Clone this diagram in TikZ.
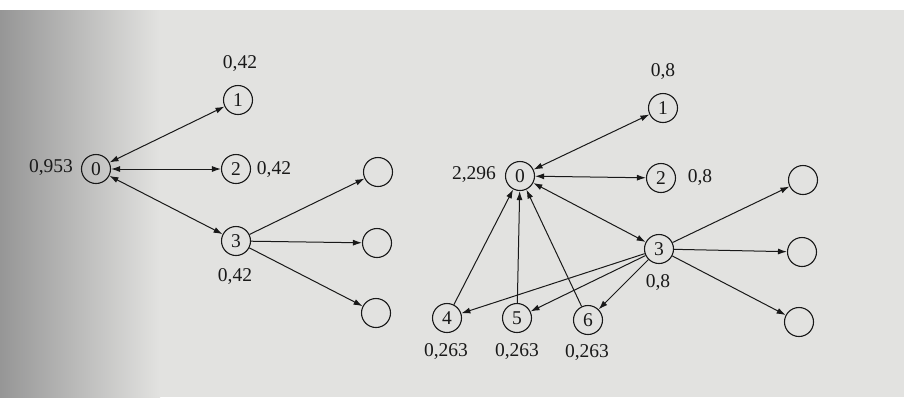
\documentclass[tikz,border=0pt]{standalone}
\usepackage{fontspec}
\setmainfont{Liberation Serif}
\usetikzlibrary{arrows.meta}
\definecolor{page}{RGB}{226,226,224}
\definecolor{pageedge}{RGB}{150,150,150}
\definecolor{ink}{RGB}{25,25,25}
\begin{document}
\begin{tikzpicture}[x=1pt,y=-1pt,
 pg/.style={circle,draw=ink,line width=1.1pt,minimum size=29pt,inner sep=0pt,font=\fontsize{19.5}{22}\selectfont,text=ink},
 lbl/.style={font=\fontsize{19.5}{22}\selectfont,text=ink,inner sep=0pt},
 link/.style={draw=ink,line width=1pt,-{Latex[length=9pt,width=6pt]}},
 both/.style={draw=ink,line width=1pt,{Latex[length=9pt,width=6pt]}-{Latex[length=9pt,width=6pt]}}]
\useasboundingbox (0,0) rectangle (904,397);
\fill[white] (0,0) rectangle (904,397);
\fill[page] (0,10) rectangle (904,397);
\shade[left color=pageedge,right color=page] (0,10) rectangle (160,397);

% left graph
\node[pg] (a0) at (96,169) {0};
\node[pg] (a1) at (238,100) {1};
\node[pg] (a2) at (236,169) {2};
\node[pg] (a3) at (236,241) {3};
\node[pg] (a4) at (378,172) {};
\node[pg] (a5) at (377,243) {};
\node[pg] (a6) at (376,313) {};
\node[lbl] (la1) at (240,64) {0,42};
\node[lbl] (la0) at (51,168) {0,953};
\node[lbl] (la2) at (274,170) {0,42};
\node[lbl] (la3) at (235,277) {0,42};
\draw[both] (a0) -- (a1);
\draw[both] (a0) -- (a2);
\draw[both] (a0) -- (a3);
\draw[link] (a3) -- (a4);
\draw[link] (a3) -- (a5);
\draw[link] (a3) -- (a6);

% right graph
\node[pg] (b0) at (520,176) {0};
\node[pg] (b1) at (663,108) {1};
\node[pg] (b2) at (661,178) {2};
\node[pg] (b3) at (659,249) {3};
\node[pg] (bx) at (803,180) {};
\node[pg] (by) at (802,252) {};
\node[pg] (bz) at (799,322) {};
\node[pg] (b4) at (447,318) {4};
\node[pg] (b5) at (517,318) {5};
\node[pg] (b6) at (588,320) {6};
\node[lbl] (lb1) at (663,72) {0,8};
\node[lbl] (lb0) at (474,175) {2,296};
\node[lbl] (lb2) at (700,178) {0,8};
\node[lbl] (lb3) at (658,283) {0,8};
\node[lbl] (lb4) at (446,352) {0,263};
\node[lbl] (lb5) at (517,352) {0,263};
\node[lbl] (lb6) at (587,353) {0,263};
\draw[both] (b0) -- (b1);
\draw[both] (b0) -- (b2);
\draw[both] (b0) -- (b3);
\draw[link] (b3) -- (bx);
\draw[link] (b3) -- (by);
\draw[link] (b3) -- (bz);
\draw[link] (b3) -- (b4);
\draw[link] (b3) -- (b5);
\draw[link] (b3) -- (b6);
\draw[link] (b4) -- (b0);
\draw[link] (b5) -- (b0);
\draw[link] (b6) -- (b0);
\end{tikzpicture}
\end{document}
